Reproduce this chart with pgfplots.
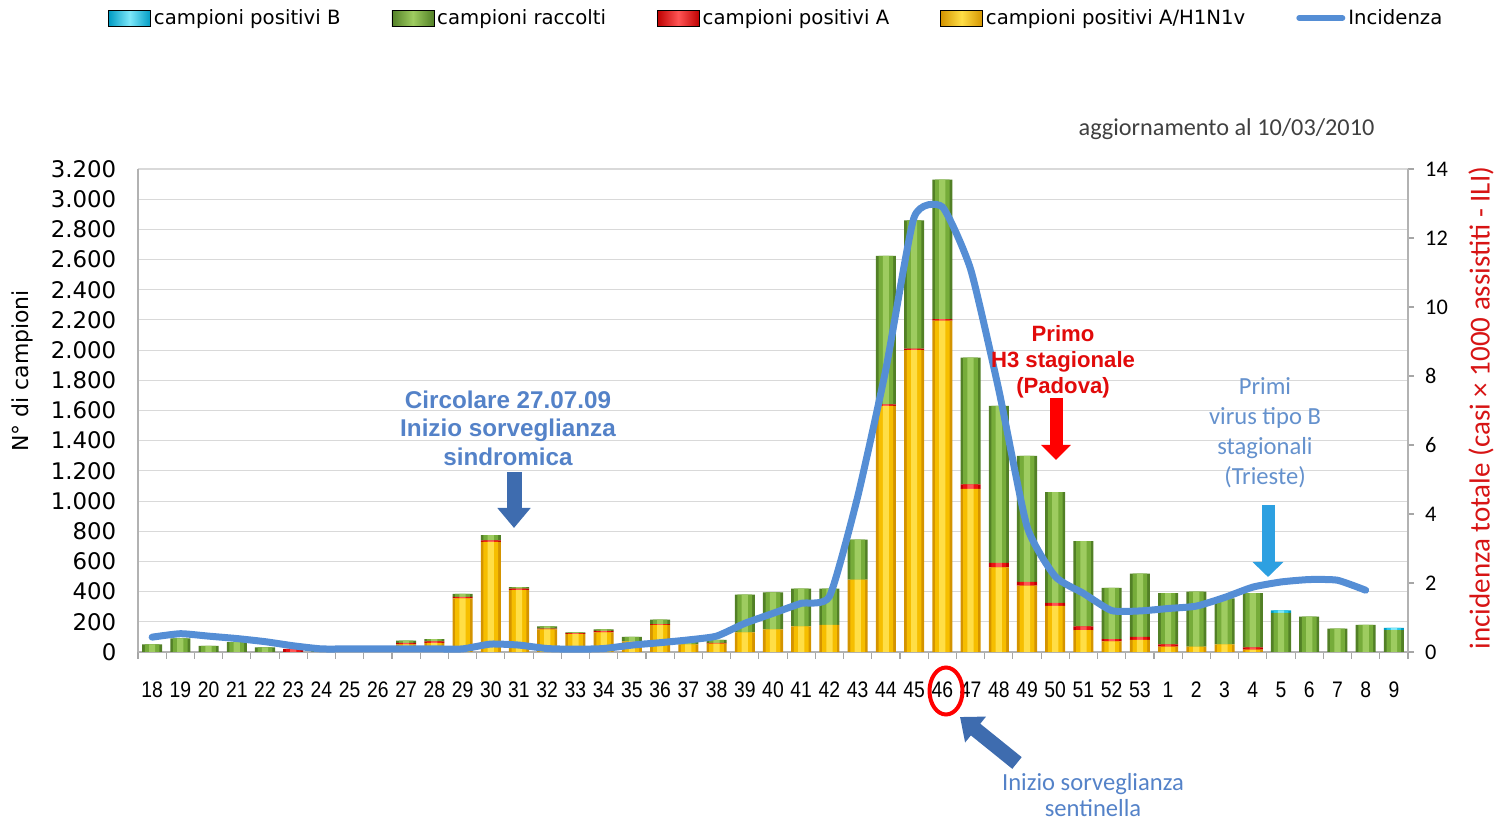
\documentclass[border=0pt]{standalone}
\usepackage{fontspec}
\setmainfont{Liberation Sans}
\newfontfamily\dejavu{DejaVu Sans}
\newfontfamily\carlito{Carlito}
\newfontfamily\narrowarial[FakeStretch=0.86]{Liberation Sans}
\usepackage{pgfplots}
\pgfplotsset{compat=1.18}
\usepackage{pgfplotstable}
\usetikzlibrary{arrows.meta}

\definecolor{yelD}{RGB}{212,148,0}
\definecolor{yelM}{RGB}{246,190,0}
\definecolor{yelL}{RGB}{255,222,70}
\definecolor{grnD}{RGB}{82,128,38}
\definecolor{grnM}{RGB}{118,172,58}
\definecolor{grnL}{RGB}{158,204,96}
\definecolor{redD}{RGB}{190,0,0}
\definecolor{redM}{RGB}{235,20,20}
\definecolor{redL}{RGB}{255,85,85}
\definecolor{cyaD}{RGB}{0,155,195}
\definecolor{cyaM}{RGB}{40,200,235}
\definecolor{cyaL}{RGB}{125,232,250}
\definecolor{lineblue}{RGB}{85,142,213}
\definecolor{annblue}{RGB}{84,130,200}
\definecolor{annblue2}{RGB}{100,145,205}
\definecolor{arrdark}{RGB}{62,108,175}
\definecolor{arrsky}{RGB}{45,160,225}
\definecolor{labred}{RGB}{215,20,20}
\definecolor{annred}{RGB}{225,10,10}

\pgfplotstableread{
idx Y R G C
0 0 0 50 0
1 0 0 90 0
2 0 0 40 0
3 0 0 65 0
4 0 0 30 0
5 0 20 0 0
6 0 0 5 0
7 0 0 5 0
8 0 0 8 0
9 50 10 15 0
10 60 10 15 0
11 355 10 20 0
12 730 10 35 0
13 410 10 10 0
14 150 5 15 0
15 120 5 5 0
16 130 10 10 0
17 70 0 30 0
18 180 5 30 0
19 50 0 15 0
20 55 5 20 0
21 130 0 250 0
22 150 0 245 0
23 170 0 250 0
24 180 0 240 0
25 480 0 265 0
26 1630 10 985 0
27 2000 10 850 0
28 2195 10 925 0
29 1080 30 840 0
30 560 30 1040 0
31 440 25 835 0
32 305 20 735 0
33 145 25 565 0
34 70 15 340 0
35 80 20 420 0
36 35 15 340 0
37 35 0 365 0
38 50 0 305 0
39 15 15 360 0
40 0 0 260 15
41 0 0 235 0
42 0 0 155 0
43 0 0 180 0
44 0 0 145 15
}\bars

\pgfplotstableread{
idx I
0 0.43
1 0.53
2 0.46
3 0.39
4 0.30
5 0.18
6 0.09
7 0.09
8 0.09
9 0.09
10 0.09
11 0.09
12 0.23
13 0.20
14 0.10
15 0.08
16 0.10
17 0.20
18 0.27
19 0.35
20 0.46
21 0.83
22 1.12
23 1.41
24 1.61
25 4.50
26 8.20
27 12.6
28 12.9
29 11.1
30 7.6
31 3.64
32 2.19
33 1.70
34 1.20
35 1.19
36 1.26
37 1.33
38 1.58
39 1.88
40 2.03
41 2.10
42 2.08
43 1.79
}\inc

\pgfplotsset{
  frame/.style={at={(0,0)}, anchor=south west,
    width=254mm, height=96.6mm, scale only axis,
    xmin=-0.5, xmax=44.5},
  overlay/.style={frame, ymin=0, ymax=3200, hide axis, ybar stacked, bar width=#1},
}

\begin{document}
\begin{tikzpicture}
\useasboundingbox (-27.6mm,-34.2mm) rectangle (273.8mm,130.4mm);
% base layer: axes, grid and dark bars
\begin{axis}[
  frame, ymin=0, ymax=3200,
  ybar stacked, bar width=0.71,
  axis x line*=bottom, axis y line*=left,
  axis line style={-, draw=gray!60, line width=0.6pt},
  xtick={0,...,44},
  xticklabels={18,19,20,21,22,23,24,25,26,27,28,29,30,31,32,33,34,35,36,37,38,39,40,41,42,43,44,45,46,47,48,49,50,51,52,53,1,2,3,4,5,6,7,8,9},
  minor xtick={-0.5,0.5,...,44.5},
  tick align=outside,
  major x tick style={draw=none},
  minor x tick style={draw=gray!70, line width=0.6pt},
  minor tick length=1.4mm,
  ytick={0,200,...,3200},
  ytick style={draw=none},
  ymajorgrids, grid style={draw=gray!30, line width=0.6pt},
  /pgf/number format/assume math mode=true,
  /pgf/number format/1000 sep={.},
  scaled y ticks=false,
  xticklabel style={font=\narrowarial\fontsize{12.8}{14}\selectfont, yshift=-3.2mm},
  yticklabel style={font=\dejavu\fontsize{13}{15}\selectfont, xshift=-1.6mm},
  clip=false,
]
\addplot[draw=none, fill=yelD] table[x=idx,y=Y] \bars;
\addplot[draw=none, fill=redD] table[x=idx,y=R] \bars;
\addplot[draw=none, fill=grnD] table[x=idx,y=G] \bars;
\addplot[draw=none, fill=cyaD] table[x=idx,y=C] \bars;
\end{axis}
% middle layer
\begin{axis}[overlay=0.52]
\addplot[draw=none, fill=yelM] table[x=idx,y=Y] \bars;
\addplot[draw=none, fill=redM] table[x=idx,y=R] \bars;
\addplot[draw=none, fill=grnM] table[x=idx,y=G] \bars;
\addplot[draw=none, fill=cyaM] table[x=idx,y=C] \bars;
\end{axis}
% highlight layer
\begin{axis}[overlay=0.22]
\addplot[draw=none, fill=yelL] table[x=idx,y=Y] \bars;
\addplot[draw=none, fill=redL] table[x=idx,y=R] \bars;
\addplot[draw=none, fill=grnL] table[x=idx,y=G] \bars;
\addplot[draw=none, fill=cyaL] table[x=idx,y=C] \bars;
\end{axis}
% incidence line on the right axis
\begin{axis}[
  frame, ymin=0, ymax=14,
  axis x line=none, axis y line*=right,
  axis line style={-, draw=gray!60, line width=0.6pt},
  ytick={0,2,...,14},
  tick align=outside, major tick length=1.2mm,
  ytick style={draw=gray!70, line width=0.6pt},
  /pgf/number format/assume math mode=true,
  yticklabel style={font=\carlito\fontsize{12.7}{14}\selectfont, xshift=1mm},
  legend columns=5,
  legend cell align=left,
  legend style={at={(0.503,1.3126)}, anchor=center, draw=none, fill=none,
    font=\dejavu\fontsize{11.2}{13}\selectfont, inner sep=0pt,
    /tikz/every even column/.append style={column sep=9.6mm},
    nodes={inner xsep=0.6mm}},
  clip=false,
]
\addlegendimage{legend image code/.code={\path[left color=cyaD,right color=cyaD,middle color=cyaL] (0mm,-1.6mm) rectangle (8.4mm,1.6mm);}}
\addlegendentry{campioni positivi B}
\addlegendimage{legend image code/.code={\path[left color=grnD,right color=grnD,middle color=grnL] (0mm,-1.6mm) rectangle (8.4mm,1.6mm);}}
\addlegendentry{campioni raccolti}
\addlegendimage{legend image code/.code={\path[left color=redD,right color=redD,middle color=redL] (0mm,-1.6mm) rectangle (8.4mm,1.6mm);}}
\addlegendentry{campioni positivi A}
\addlegendimage{legend image code/.code={\path[left color=yelD,right color=yelD,middle color=yelL] (0mm,-1.6mm) rectangle (8.4mm,1.6mm);}}
\addlegendentry{campioni positivi A/H1N1v}
\addplot[lineblue, line width=1.4mm, smooth, tension=0.33, line join=round, line cap=round,
  legend image code/.code={\draw[lineblue, line width=1.2mm] (0mm,0mm) -- (8.6mm,0mm);}]
  table[x=idx,y=I] \inc;
\addlegendentry{Incidenza}
\end{axis}

% axis titles
\node[rotate=90, font=\dejavu\fontsize{12.5}{14}\selectfont] at (-23.2mm,56.2mm) {N° di campioni};
\node[rotate=90, font=\carlito\fontsize{16.5}{18}\selectfont, text=labred] at (268.6mm,48.8mm) {incidenza totale (casi × 1000 assistiti - ILI)};

% annotations
\node[font=\carlito\fontsize{13.8}{16}\selectfont, text=black!75] at (217.7mm,104.6mm) {aggiornamento al 10/03/2010};

\node[align=center, font=\bfseries\fontsize{13.8}{16.2}\selectfont, text=annblue] at (74.0mm,44.8mm) {Circolare 27.07.09\\Inizio sorveglianza\\sindromica};
\draw[arrdark, line width=3mm, -{Triangle[width=6.4mm,length=4mm]}] (75.2mm,36.0mm) -- (75.2mm,24.8mm);

\node[align=center, font=\bfseries\fontsize{12.6}{14.8}\selectfont, text=annred] at (185.0mm,58.0mm) {Primo\\H3 stagionale\\(Padova)};
\draw[red, line width=2.6mm, -{Triangle[width=5.8mm,length=3mm]}] (183.6mm,50.8mm) -- (183.6mm,38.4mm);

\node[align=center, font=\carlito\fontsize{14}{17}\selectfont, text=annblue2] at (225.4mm,43.8mm) {Primi\\virus tipo B\\stagionali\\(Trieste)};
\draw[arrsky, line width=2.6mm, -{Triangle[width=6mm,length=3mm]}] (226.0mm,29.4mm) -- (226.0mm,15.0mm);

\draw[red, line width=0.8mm] (161.6mm,-7.8mm) ellipse [x radius=3.3mm, y radius=4.7mm];
\draw[arrdark, line width=3mm, -{Triangle[width=6.4mm,length=4mm]}] (175.8mm,-22.2mm) -- (164.4mm,-13.0mm);
\node[align=center, font=\carlito\fontsize{14}{15}\selectfont, text=annblue] at (191.0mm,-28.6mm) {Inizio sorveglianza\\sentinella};
\end{tikzpicture}
\end{document}
